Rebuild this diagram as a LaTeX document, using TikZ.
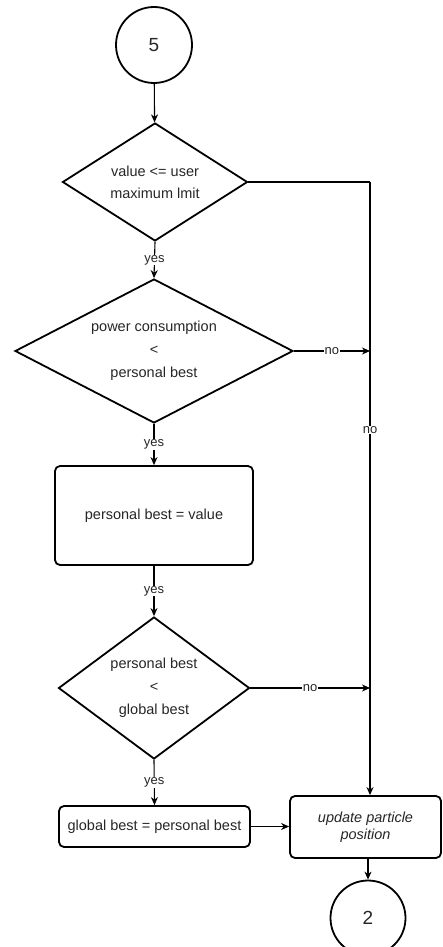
\documentclass[tikz,border=0pt]{standalone}
\usepackage{fontspec}
\setmainfont{Liberation Sans}
\usetikzlibrary{shapes.geometric,arrows.meta,calc}

\tikzset{
  every node/.style={font=\fontsize{14.5}{17}\selectfont, text=black!85},
  shapeline/.style={draw=black, line width=1.8pt},
  decision/.style={shapeline, diamond, inner sep=0pt, align=center},
  process/.style={shapeline, rectangle, rounded corners=5pt, inner sep=0pt, align=center},
  connector/.style={shapeline, circle, inner sep=0pt, font=\fontsize{19}{21}\selectfont},
  flow/.style={draw=black, line width=1.1pt, -{Stealth[length=8pt,width=7pt,inset=2.5pt]}},
  plain/.style={draw=black, line width=1.1pt},
  lbl/.style={fill=white, inner sep=0.5pt, font=\fontsize{13}{15}\selectfont},
}

\begin{document}
\begin{tikzpicture}[x=1pt,y=-1pt]
  \useasboundingbox (0,0) rectangle (443,947);

  % start / end connectors
  \node[connector, minimum size=76pt] (c5) at (154,45) {5};
  \node[connector, minimum size=75pt] (c2) at (368,918) {2};

  % decisions
  \node[decision, aspect=1.57, minimum width=185pt, minimum height=118pt] (d1) at (155,182)
    {value <= user\\[5pt]maximum lmit};
  \node[decision, aspect=1.93, minimum width=278pt, minimum height=144pt] (d2) at (154,351)
    {power consumption\\[6pt]<\\[6pt]personal best};
  \node[decision, aspect=1.35, minimum width=191pt, minimum height=142pt] (d3) at (154,688)
    {personal best\\[6pt]<\\[6pt]global best};

  % processes
  \node[process, minimum width=198pt, minimum height=99pt] (p1) at (154,515.5)
    {personal best = value};
  \node[process, minimum width=191pt, minimum height=41pt] (p2) at (154.5,826.5)
    {global best = personal best};
  \node[process, minimum width=151pt, minimum height=62pt] (upd) at (365.5,827)
    {\itshape update particle\\\itshape position};

  % right-hand return line
  \coordinate (rt) at (370,182);

  % main flow
  \draw[flow] (c5) -- (d1);
  \draw[flow] (d1.south) -- node[lbl]{yes} (d2.north);
  \draw[flow] (d2.south) -- node[lbl]{yes} (p1.north);
  \draw[flow] (p1.south) -- node[lbl]{yes} (d3.north);
  \draw[flow] (d3.south) -- node[lbl]{yes} (p2.north);
  \draw[flow] (p2.east) -- (upd.west |- p2.east);
  \draw[flow] (upd.south -| c2.north) -- (c2.north);

  % "no" branches
  \draw[plain] (d1.east) -- (rt);
  \draw[flow] (rt) -- node[lbl, pos=0.404]{no} (rt |- upd.north);
  \draw[flow] (d2.east) -- node[lbl]{no} (rt |- d2.east);
  \draw[flow] (d3.east) -- node[lbl]{no} (rt |- d3.east);
\end{tikzpicture}
\end{document}
